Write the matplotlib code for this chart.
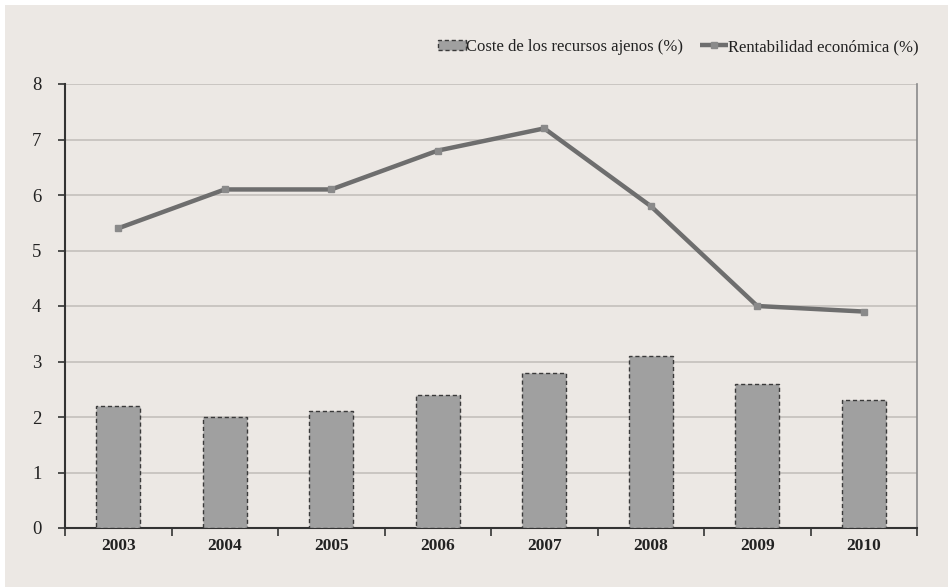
import matplotlib
matplotlib.use("Agg")
import matplotlib.pyplot as plt
from matplotlib.patches import Rectangle
import numpy as np

# ── Data ──────────────────────────────────────────────────────────────────
years = ["2003", "2004", "2005", "2006", "2007", "2008", "2009", "2010"]
coste_recursos = [2.2, 2.0, 2.1, 2.4, 2.8, 3.1, 2.6, 2.3]
rentabilidad = [5.4, 6.1, 6.1, 6.8, 7.2, 5.8, 4.0, 3.9]
y_ticks = [0, 1, 2, 3, 4, 5, 6, 7, 8]

BG = "#ece8e4"
plt.rcParams["font.family"] = ["Liberation Serif", "DejaVu Serif"]

fig = plt.figure(figsize=(9.48, 5.87), dpi=100, facecolor="white")
fig.patches.append(Rectangle((5 / 948, 0), 1, 1 - 5 / 587,
                             transform=fig.transFigure,
                             facecolor=BG, edgecolor="none", zorder=-10))

ax = fig.add_axes([65 / 948, 1 - 528 / 587, 852 / 948, 444 / 587])
ax.set_facecolor(BG)

x = np.arange(len(years))
bars = ax.bar(x, coste_recursos, width=0.41, color="#a0a0a0",
              edgecolor="#3a3a3a", linestyle=(0, (3, 2)), linewidth=1.0,
              label="Coste de los recursos ajenos (%)", zorder=3)
line, = ax.plot(x, rentabilidad, color="#6e6e6e", linewidth=3.2,
                marker="s", markersize=4, markerfacecolor="#8a8a8a",
                markeredgecolor="#8a8a8a", solid_capstyle="butt",
                label="Rentabilidad económica (%)", zorder=4)

ax.set_xlim(-0.5, len(years) - 0.5)
ax.set_ylim(0, 8)
ax.set_yticks(y_ticks)
ax.yaxis.grid(True, color="#c4c0bc", linewidth=1.2, zorder=0)
ax.set_axisbelow(True)

# category labels centred, ticks on the category boundaries
ax.set_xticks(x)
ax.set_xticklabels(years, fontsize=12.5, fontweight="bold", color="#222222")
ax.set_xticks(np.arange(len(years) + 1) - 0.5, minor=True)
ax.tick_params(axis="x", which="major", length=0, pad=7)
ax.tick_params(axis="x", which="minor", length=6, width=1.2,
               color="#333333", direction="out")
ax.tick_params(axis="y", length=5, width=1.2, color="#333333",
               labelsize=13.5, labelcolor="#222222", pad=12)

for side in ["left", "bottom"]:
    ax.spines[side].set_color("#333333")
    ax.spines[side].set_linewidth(1.5)
ax.spines["top"].set_visible(False)
ax.spines["right"].set_color("#8a8a8a")
ax.spines["right"].set_linewidth(1.2)

leg = fig.legend([bars, line], [bars.get_label(), line.get_label()],
                 loc="center right", bbox_to_anchor=(927 / 948, 1 - 47 / 587),
                 ncol=2, frameon=False, fontsize=12,
                 handlelength=1.7, handleheight=0.6, handletextpad=0.0,
                 columnspacing=1.0, borderpad=0.0)
for t in leg.get_texts():
    t.set_color("#222222")

plt.savefig("out.png", dpi=100, facecolor=fig.get_facecolor())
plt.close()
